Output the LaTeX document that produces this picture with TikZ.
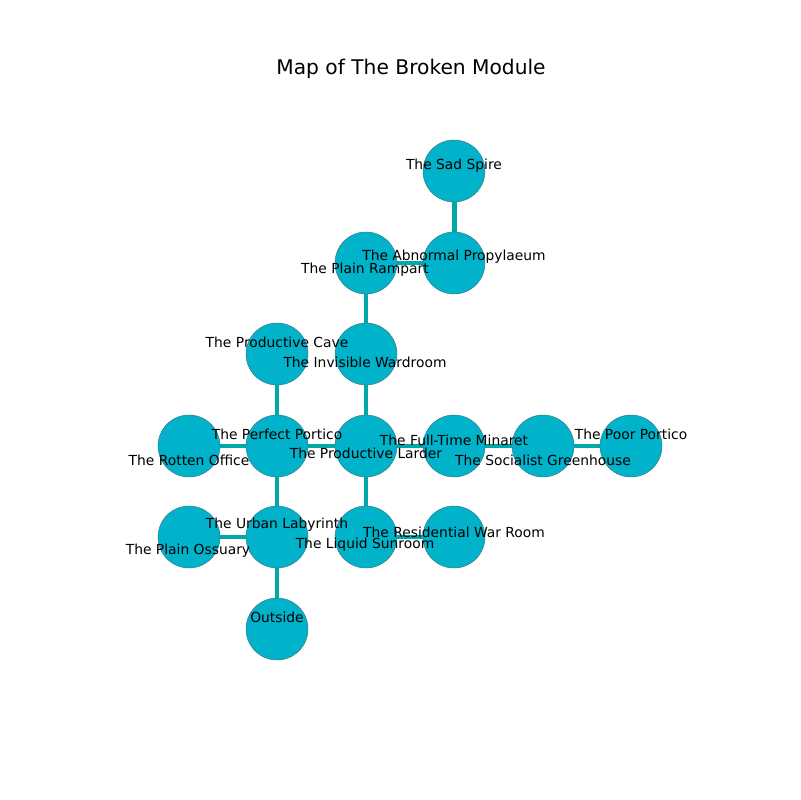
\documentclass[tikz,border=0pt]{standalone}
\usepackage{fontspec}
\setmainfont{DejaVu Sans}
\definecolor{roomfill}{RGB}{0,178,202}
\definecolor{roomedge}{RGB}{70,110,120}
\definecolor{doorcol}{RGB}{0,168,168}
\begin{document}
\begin{tikzpicture}[
        x=0.01in, y=-0.01in,
        room/.style={circle, fill=roomfill, draw=roomedge, line width=0.3pt, minimum size=0.62in, inner sep=0pt}, % rooms
        door/.style={doorcol, line width=3.6pt}, % passages
        lbl/.style={font=\fontsize{10}{12}\selectfont, inner sep=0pt}
    ]
    \useasboundingbox (0,0) rectangle (800,800);

    % positions of the rooms
    \coordinate (spire) at (454,171);
    \coordinate (propyl) at (454,263);
    \coordinate (rampart) at (366,263);
    \coordinate (cave) at (277,354);
    \coordinate (wardroom) at (366,354);
    \coordinate (office) at (189,446);
    \coordinate (perfect) at (277,446);
    \coordinate (larder) at (366,446);
    \coordinate (minaret) at (454,446);
    \coordinate (greenhouse) at (543,446);
    \coordinate (poor) at (631,446);
    \coordinate (ossuary) at (189,537);
    \coordinate (labyrinth) at (277,537);
    \coordinate (sunroom) at (366,537);
    \coordinate (warroom) at (454,537);
    \coordinate (outside) at (277,629);

    % passages
    \draw[door] (spire) -- (propyl);
    \draw[door] (propyl) -- (rampart);
    \draw[door] (rampart) -- (wardroom);
    \draw[door] (wardroom) -- (larder);
    \draw[door] (cave) -- (perfect);
    \draw[door] (office) -- (perfect);
    \draw[door] (perfect) -- (larder);
    \draw[door] (larder) -- (minaret);
    \draw[door] (minaret) -- (greenhouse);
    \draw[door] (greenhouse) -- (poor);
    \draw[door] (perfect) -- (labyrinth);
    \draw[door] (ossuary) -- (labyrinth);
    \draw[door] (labyrinth) -- (outside);
    \draw[door] (larder) -- (sunroom);
    \draw[door] (sunroom) -- (warroom);

    % rooms
    \foreach \r in {spire, propyl, rampart, cave, wardroom, office, perfect, larder,
                    minaret, greenhouse, poor, ossuary, labyrinth, sunroom, warroom, outside}
        \node[room] (\r-c) at (\r) {};

    % names
    \node[lbl] (spire-t) at (454,166) {The Sad Spire};
    \node[lbl] (propyl-t) at (454,257) {The Abnormal Propylaeum};
    \node[lbl] (rampart-t) at (365,270) {The Plain Rampart};
    \node[lbl] (cave-t) at (277,342) {The Productive Cave};
    \node[lbl] (wardroom-t) at (365,362) {The Invisible Wardroom};
    \node[lbl] (perfect-t) at (277,434) {The Perfect Portico};
    \node[lbl] (office-t) at (189,460) {The Rotten Office};
    \node[lbl] (larder-t) at (366,453) {The Productive Larder};
    \node[lbl] (minaret-t) at (454,440) {The Full-Time Minaret};
    \node[lbl] (greenhouse-t) at (543,460) {The Socialist Greenhouse};
    \node[lbl] (poor-t) at (631,434) {The Poor Portico};
    \node[lbl] (labyrinth-t) at (277,525) {The Urban Labyrinth};
    \node[lbl] (ossuary-t) at (188,551) {The Plain Ossuary};
    \node[lbl] (sunroom-t) at (365,545) {The Liquid Sunroom};
    \node[lbl] (warroom-t) at (454,532) {The Residential War Room};
    \node[lbl] (outside-t) at (277,617) {Outside};

    \node[font=\fontsize{14.6}{17}\selectfont, inner sep=0pt] (title) at (411,69) {Map of The Broken Module};
\end{tikzpicture}
\end{document}
